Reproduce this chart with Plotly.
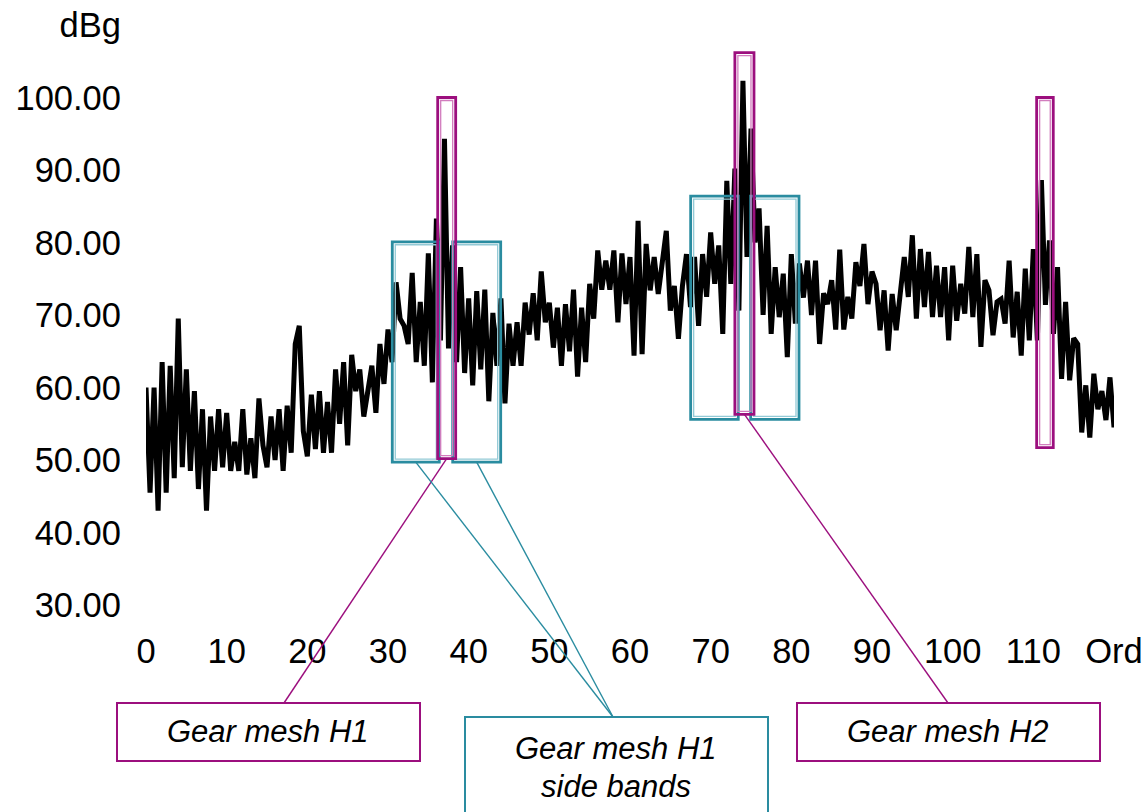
import plotly.graph_objects as go

# ---- spectrum data (order spectrum, 0.5 order resolution) ----
order_step = 0.5
levels_dbg = [
    60, 45.5, 60, 43, 63.5, 45.5, 63, 47.5, 69.5, 49,
    62.5, 48.5, 59.5, 46, 57, 43, 56, 48.5, 57, 49,
    56.5, 48.5, 52.5, 48.5, 57, 48, 53, 47.5, 58.5, 52,
    49, 56, 50, 57, 48.5, 57.5, 51, 66, 68.5, 54,
    50.5, 59, 51.5, 59.5, 51, 58, 51, 62.5, 55, 63.5,
    52, 64.5, 59.5, 62.5, 56, 59.5, 63, 56.5, 66, 60.5,
    68, 63.5, 74.5, 69.5, 68.5, 66, 75.8, 63.5, 71.8, 63,
    78.5, 60.7, 83.3, 66.5, 94.3, 65.4, 79.6, 63.5, 76.6, 62,
    72.3, 60.3, 73.3, 62.5, 73.5, 58.1, 70.3, 63, 72.3, 57.8,
    68.8, 63, 69, 63, 71.7, 67.3, 73, 66.5, 76, 69,
    71.7, 65.5, 71, 63, 71.5, 65, 73.5, 61.5, 71, 63.5,
    74.3, 69.5, 78.9, 73.5, 77.5, 73.5, 78.9, 69, 78.5, 71.5,
    78, 64.4, 83, 64.6, 79.8, 73.4, 78, 72.9, 78, 81.6,
    70.6, 74, 66.7, 74, 78.4, 71.1, 78, 68.5, 78.4, 72.5,
    81.4, 74.3, 79.6, 67.4, 88.5, 74.3, 90.2, 70.6, 102.3, 78,
    95.7, 80, 84.7, 70, 82.3, 67.4, 76.6, 69.7, 75.7, 64.2,
    78.4, 68.8, 77.1, 72.4, 77.5, 70, 77.5, 66, 73, 71.5,
    74.8, 68, 79, 68, 72.5, 69.5, 77.3, 74, 79.8, 71.5,
    76, 74.3, 67.9, 73.4, 65.1, 72.9, 67.9, 73.6, 78, 72.5,
    81, 69.5, 79.1, 71.1, 78.7, 69.7, 76.8, 69.7, 76.6, 66.5,
    76.8, 69.2, 74.3, 70.2, 79.4, 69.7, 78.4, 65.6, 74.8, 73.4,
    67.2, 71.8, 72.2, 68.8, 77.5, 66.9, 73.2, 64.4, 76.4, 66.5,
    79.1, 66.5, 88.6, 71.4, 80.3, 67.4, 76.6, 61.2, 71.8, 61,
    66.8, 66, 53.8, 60.3, 53.1, 61.9, 57, 59.5, 55.5, 61.4,
    54.5,
]
orders = [i * order_step for i in range(len(levels_dbg))]

# ---- axis ticks ----
x_tickvals = list(range(0, 121, 10))
x_ticktext = [str(v) for v in range(0, 111, 10)] + ["Ord"]
y_tickvals = list(range(30, 111, 10))
y_ticktext = [f"{v:.2f}" for v in range(30, 101, 10)] + ["dBg"]

# ---- highlighted regions: (order start, order end, dBg low, dBg high) ----
mesh_h1 = (36.16, 38.39, 50.2, 100.0)
mesh_h2 = (73.0, 75.37, 56.3, 106.2)
mesh_h3 = (110.41, 112.47, 51.7, 100.0)
h1_side_low = (30.53, 36.36, 49.7, 80.1)
h1_side_high = (38.02, 43.97, 49.7, 80.1)
h2_side_low = (67.52, 73.42, 55.6, 86.4)
h2_side_high = (74.96, 80.95, 55.6, 86.4)

# ---- figure geometry ----
FIG_W, FIG_H = 1144, 812
M_L, M_R, M_T, M_B = 146, 30, 25, 207
X_RANGE = (0, 120)
Y_RANGE = (30, 110)
PLOT_W = FIG_W - M_L - M_R
PLOT_H = FIG_H - M_T - M_B
PX_PER_X = PLOT_W / (X_RANGE[1] - X_RANGE[0])
PX_PER_Y = PLOT_H / (Y_RANGE[1] - Y_RANGE[0])

MAGENTA = "#9C0F7E"
MAGENTA_LIGHT = "#D27DBE"
TEAL = "#2A8CA0"
TEAL_LIGHT = "#93CAD6"


def px_to_paper(px, py):
    return (px - M_L) / PLOT_W, (FIG_H - M_B - py) / PLOT_H


def data_to_paper(x, y):
    return ((x - X_RANGE[0]) / (X_RANGE[1] - X_RANGE[0]),
            (y - Y_RANGE[0]) / (Y_RANGE[1] - Y_RANGE[0]))


shapes = []


def framed_box(region, dark, light):
    x0, x1, y0, y1 = region
    shapes.append(dict(type="rect", xref="x", yref="y", x0=x0, x1=x1, y0=y0, y1=y1,
                       line=dict(color=dark, width=2.8), fillcolor="rgba(0,0,0,0)",
                       layer="above"))
    ix, iy = 3 / PX_PER_X, 3 / PX_PER_Y
    shapes.append(dict(type="rect", xref="x", yref="y", x0=x0 + ix, x1=x1 - ix,
                       y0=y0 + iy, y1=y1 - iy,
                       line=dict(color=light, width=1.3), fillcolor="rgba(0,0,0,0)",
                       layer="above"))


for r in (h1_side_low, h1_side_high, h2_side_low, h2_side_high):
    framed_box(r, TEAL, TEAL_LIGHT)
for r in (mesh_h1, mesh_h2, mesh_h3):
    framed_box(r, MAGENTA, MAGENTA_LIGHT)


def bottom_center(region):
    x0, x1, y0, _ = region
    return data_to_paper((x0 + x1) / 2, y0)


def leader(start_px, region, color):
    sx, sy = px_to_paper(*start_px)
    ex, ey = bottom_center(region)
    shapes.append(dict(type="line", xref="paper", yref="paper", x0=sx, y0=sy, x1=ex, y1=ey,
                       line=dict(color=color, width=1.4), layer="above"))


def callout_box(px0, py0, px1, py1, color):
    a = px_to_paper(px0, py0)
    b = px_to_paper(px1, py1)
    shapes.append(dict(type="rect", xref="paper", yref="paper", x0=a[0], y0=a[1],
                       x1=b[0], y1=b[1], line=dict(color=color, width=2),
                       fillcolor="white", layer="above"))


# callout frames
callout_box(117, 703, 420, 761, MAGENTA)
callout_box(465, 717, 768, 840, TEAL)
callout_box(797, 703, 1100, 761, MAGENTA)

# leader lines from callouts to the highlighted regions
leader((284, 703), mesh_h1, MAGENTA)
leader((613, 717), h1_side_low, TEAL)
leader((613, 717), h1_side_high, TEAL)
leader((948, 703), mesh_h2, MAGENTA)

callout_font = dict(family="Liberation Sans, Arial, sans-serif", size=31, color="black")
annotations = []
for text, cx, cy in [
    ("<i>Gear mesh H1</i>", 268, 731),
    ("<i>Gear mesh H1</i>", 616, 748),
    ("<i>side bands</i>", 616, 786),
    ("<i>Gear mesh H2</i>", 948, 731),
]:
    ax, ay = px_to_paper(cx, cy)
    annotations.append(dict(text=text, x=ax, y=ay, xref="paper", yref="paper",
                            xanchor="center", yanchor="middle", showarrow=False,
                            font=callout_font))

fig = go.Figure()
fig.add_trace(go.Scatter(
    x=orders, y=levels_dbg, mode="lines",
    line=dict(color="black", width=5),
    hoverinfo="x+y", showlegend=False,
))

tick_font = dict(family="Liberation Sans, Arial, sans-serif", size=34.5, color="black")
fig.update_layout(
    width=FIG_W, height=FIG_H, autosize=False,
    margin=dict(l=M_L, r=M_R, t=M_T, b=M_B, pad=0),
    paper_bgcolor="white", plot_bgcolor="white",
    shapes=shapes, annotations=annotations,
    xaxis=dict(range=list(X_RANGE), tickvals=x_tickvals, ticktext=x_ticktext,
               showgrid=False, zeroline=False, showline=False, ticks="",
               tickfont=tick_font, ticklabelstandoff=22, automargin=False),
    yaxis=dict(range=list(Y_RANGE), tickvals=y_tickvals, ticktext=y_ticktext,
               showgrid=False, zeroline=False, showline=False, ticks="",
               tickfont=tick_font, ticklabelstandoff=24, automargin=False),
)

fig.write_html("out.html")
